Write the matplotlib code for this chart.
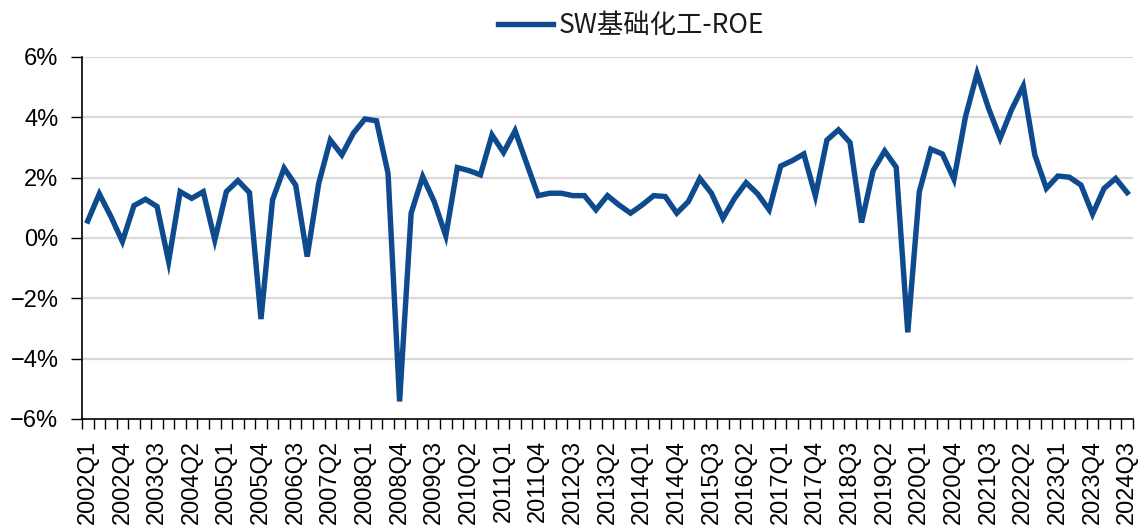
import matplotlib
matplotlib.use("Agg")
import matplotlib.pyplot as plt
from matplotlib.ticker import FixedLocator, FuncFormatter

plt.rcParams['font.family'] = ['Liberation Sans', 'DejaVu Sans']

quarters = [f"{y}Q{q}" for y in range(2002, 2025) for q in range(1, 5)][:91]

roe = [0.56, 1.46, 0.71, -0.12, 1.07, 1.28, 1.04, -0.78, 1.53, 1.31,
       1.53, -0.07, 1.53, 1.90, 1.50, -2.69, 1.26, 2.31, 1.75, -0.62,
       1.81, 3.24, 2.75, 3.47, 3.94, 3.88, 2.14, -5.42, 0.82, 2.03,
       1.20, 0.07, 2.33, 2.23, 2.09, 3.41, 2.83, 3.55, 2.47, 1.40,
       1.48, 1.48, 1.40, 1.40, 0.93, 1.40, 1.09, 0.82, 1.09, 1.40,
       1.37, 0.82, 1.20, 1.97, 1.48, 0.65, 1.31, 1.83, 1.46, 0.93,
       2.38, 2.56, 2.78, 1.39, 3.24, 3.58, 3.16, 0.51, 2.23, 2.88,
       2.34, -3.13, 1.53, 2.94, 2.78, 1.94, 4.02, 5.45, 4.29, 3.30,
       4.26, 5.03, 2.75, 1.64, 2.05, 2.01, 1.75, 0.79, 1.64, 1.97,
       1.50]

yticks = [-6, -4, -2, 0, 2, 4, 6]
series_name = "SW基础化工-ROE"
line_color = "#0E4A8E"

fig = plt.figure(figsize=(11.45, 5.31), dpi=100)
ax = fig.add_axes([0.0716, 0.211, 0.9179, 0.682])

x = list(range(len(quarters)))
ax.plot(x, roe, color=line_color, linewidth=3.9, solid_joinstyle='miter', label=series_name, zorder=3)

ax.set_xlim(-0.5, len(quarters) - 0.5)
ax.set_ylim(-6, 6)
ax.set_yticks(yticks)
ax.yaxis.set_major_formatter(FuncFormatter(lambda v, p: f"{int(v)}%".replace("-", "\u2212")))
for v in yticks[1:]:
    ax.axhline(v, color="#D9D9D9", linewidth=1.6, zorder=1)

label_idx = x[::3]
ax.set_xticks(label_idx)
ax.set_xticklabels([quarters[i] for i in label_idx], rotation=90, fontsize=17)
ax.xaxis.set_minor_locator(FixedLocator([i - 0.5 for i in range(len(quarters) + 1)]))
ax.tick_params(axis='x', which='major', length=0, pad=15)
ax.tick_params(axis='x', which='minor', length=7, width=1, direction='out', color='black')
ax.tick_params(axis='y', which='major', length=8, width=1, direction='out', labelsize=17, pad=9)

for s in ['top', 'right']:
    ax.spines[s].set_visible(False)
for s in ['left', 'bottom']:
    ax.spines[s].set_color('black')
    ax.spines[s].set_linewidth(1.2)

leg = fig.legend(loc='center', bbox_to_anchor=(0.551, 0.952), frameon=False,
                 prop={'family': ['Noto Sans CJK SC', 'DejaVu Sans'], 'size': 19},
                 handlelength=2.1, handletextpad=0.2)
for t in leg.get_texts():
    t.set_color('#1A1A1A')

fig.savefig("out.png", dpi=100, facecolor='white')
